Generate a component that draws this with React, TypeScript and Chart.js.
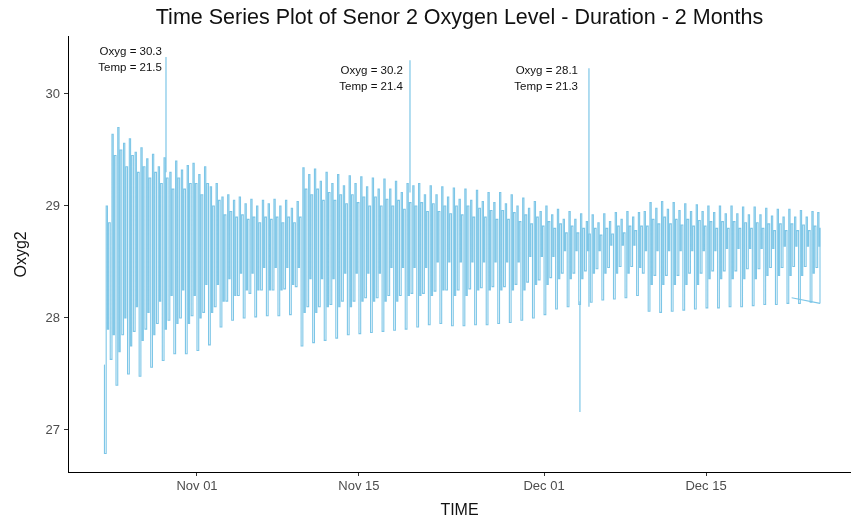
import { useEffect, useRef } from "react";
import { Chart, registerables } from "chart.js";

Chart.register(...registerables);

// Time axis: days counted from Oct 01 (= day 0)
const cycleStartDay = 23; // Oct 24
const cycleLength = 0.5; // half-day oscillation
const firstReading = 27.58;
const lastDay = 84.85;
const lastReading = 28.13;

const peaks = [
  29.0, 29.64, 29.7, 29.56, 29.6, 29.48, 29.52, 29.42, 29.46, 29.35,
  29.43, 29.3, 29.4, 29.32, 29.36, 29.38, 29.28, 29.35, 29.17, 29.2,
  29.08, 29.1, 29.05, 29.08, 29.02, 29.06, 29.0, 29.05, 29.02, 29.06,
  29.0, 29.05, 28.98, 29.04, 29.34, 29.28, 29.33, 29.22, 29.3, 29.2,
  29.28, 29.18, 29.27, 29.2, 29.26, 29.17, 29.25, 29.15, 29.24, 29.15,
  29.22, 29.12, 29.2, 29.18, 29.2, 29.1, 29.18, 29.1, 29.17, 29.08,
  29.16, 29.06, 29.15, 29.05, 29.14, 29.04, 29.12, 29.03, 29.12, 29.02,
  29.1, 29.0, 29.07, 28.98, 29.04, 28.95, 29.0, 28.92, 28.97, 28.88,
  28.95, 28.88, 28.93, 28.86, 28.92, 28.85, 28.93, 28.86, 28.94, 28.88,
  28.95, 28.9, 28.94, 28.95, 29.03, 28.98, 29.04, 28.97, 29.03, 28.96,
  29.02, 28.95, 29.01, 28.95, 29.0, 28.94, 29.0, 28.93, 29.0, 28.93,
  28.99, 28.92, 28.99, 28.92, 28.98, 28.91, 28.97, 28.9, 28.97, 28.9,
  28.96, 28.9, 28.95, 28.94,
];

const troughs = [
  26.79, 27.63, 27.4, 27.85, 27.5, 27.88, 27.48, 27.9, 27.56, 27.95,
  27.62, 27.98, 27.68, 28.0, 27.68, 28.02, 27.71, 28.05, 27.76, 28.1,
  27.92, 28.15, 27.98, 28.2, 28.0, 28.22, 28.01, 28.25, 28.02, 28.25,
  28.02, 28.26, 28.03, 28.28, 27.75, 28.1, 27.78, 28.1, 27.8, 28.12,
  27.82, 28.15, 27.85, 28.15, 27.86, 28.18, 27.87, 28.18, 27.88, 28.2,
  27.89, 28.2, 27.9, 28.22, 27.92, 28.22, 27.94, 28.24, 27.95, 28.25,
  27.93, 28.25, 27.93, 28.26, 27.94, 28.27, 27.94, 28.28, 27.95, 28.28,
  27.96, 28.3, 27.98, 28.32, 28.0, 28.34, 28.03, 28.36, 28.08, 28.4,
  28.1, 28.4, 28.12, 28.42, 28.14, 28.44, 28.16, 28.45, 28.17, 28.46,
  28.18, 28.46, 28.2, 28.4, 28.06, 28.38, 28.05, 28.38, 28.06, 28.38,
  28.07, 28.4, 28.08, 28.4, 28.09, 28.42, 28.09, 28.42, 28.1, 28.42,
  28.1, 28.44, 28.11, 28.44, 28.12, 28.45, 28.12, 28.45, 28.13, 28.46,
  28.13, 28.46, 28.14, 28.45,
];

// partial drop after each peak
const dips = [
  27.9, 27.85, 27.7, 28.0, 27.75, 28.1, 27.8, 28.05, 27.85, 28.15,
  27.9, 28.2, 27.95, 28.25, 27.95, 28.2, 28.0, 28.3, 28.05, 28.3,
  28.15, 28.35, 28.2, 28.4, 28.25, 28.4, 28.25, 28.45, 28.25, 28.45,
  28.25, 28.45, 28.3, 28.45, 28.05, 28.35, 28.05, 28.35, 28.1, 28.35,
  28.1, 28.4, 28.1, 28.4, 28.15, 28.4, 28.15, 28.4, 28.15, 28.45,
  28.15, 28.45, 28.2, 28.45, 28.2, 28.45, 28.2, 28.5, 28.25, 28.5,
  28.2, 28.5, 28.2, 28.5, 28.25, 28.5, 28.25, 28.5, 28.25, 28.5,
  28.25, 28.5, 28.25, 28.55, 28.3, 28.55, 28.3, 28.55, 28.35, 28.6,
  28.35, 28.6, 28.35, 28.6, 28.4, 28.6, 28.4, 28.65, 28.4, 28.65,
  28.4, 28.65, 28.45, 28.6, 28.3, 28.6, 28.3, 28.6, 28.3, 28.6,
  28.3, 28.6, 28.3, 28.6, 28.35, 28.6, 28.35, 28.62, 28.35, 28.62,
  28.35, 28.62, 28.35, 28.62, 28.38, 28.62, 28.38, 28.64, 28.38, 28.64,
  28.38, 28.64, 28.4, 28.64,
];

// secondary rise before the next trough
const rebounds = [
  28.85, 29.45, 29.5, 29.35, 29.45, 29.3, 29.35, 29.25, 29.3, 29.2,
  29.25, 29.15, 29.25, 29.15, 29.2, 29.2, 29.1, 29.2, 29.0, 29.05,
  28.92, 28.95, 28.9, 28.92, 28.88, 28.9, 28.85, 28.9, 28.88, 28.9,
  28.85, 28.9, 28.85, 28.9, 29.15, 29.1, 29.15, 29.05, 29.12, 29.05,
  29.1, 29.02, 29.1, 29.03, 29.08, 29.0, 29.08, 29.0, 29.06, 29.0,
  29.05, 28.97, 29.03, 29.0, 29.03, 28.95, 29.02, 28.95, 29.0, 28.93,
  29.0, 28.92, 29.0, 28.9, 28.98, 28.9, 28.96, 28.88, 28.96, 28.88,
  28.94, 28.86, 28.92, 28.84, 28.9, 28.82, 28.86, 28.8, 28.84, 28.76,
  28.82, 28.76, 28.8, 28.75, 28.8, 28.74, 28.8, 28.75, 28.82, 28.76,
  28.82, 28.78, 28.82, 28.82, 28.88, 28.84, 28.9, 28.84, 28.88, 28.83,
  28.88, 28.82, 28.87, 28.82, 28.86, 28.8, 28.86, 28.8, 28.86, 28.8,
  28.85, 28.8, 28.85, 28.8, 28.84, 28.78, 28.84, 28.78, 28.84, 28.78,
  28.83, 28.78, 28.82, 28.8,
];

// isolated spikes / dips
const spikeDays = [28.32, 49.41, 64.88];
const spikeBases = [29.3, 29.12, 28.1];
const spikeTops = [30.33, 30.3, 30.23];
const dipDays = [64.1];
const dipBases = [28.15];
const dipBottoms = [27.16];

// trailing out-of-order segment
const tailDays = [82.4, 84.85];
const tailValues = [28.18, 28.13];

// annotations
const noteDays = [27.97, 48.8, 63.93];
const noteLevels = [30.38, 30.21, 30.21];
const noteOxyg = [30.3, 30.2, 28.1];
const noteTemp = [21.5, 21.4, 21.3];

const xTickDays = [31, 45, 61, 75];
const xTickLabels = ["Nov 01", "Nov 15", "Dec 01", "Dec 15"];
const yTicks = [27, 28, 29, 30];

const LINE = "#7DC6E7";
const FONT = "'Liberation Sans', Arial, Helvetica, sans-serif";

export default function App() {
  const ref = useRef<HTMLCanvasElement | null>(null);

  useEffect(() => {
    if (!ref.current) return;

    const main: { x: number; y: number }[] = [{ x: cycleStartDay - 0.02, y: firstReading }];
    peaks.forEach((p, i) => {
      const t = cycleStartDay + i * cycleLength;
      main.push({ x: t, y: troughs[i] });
      main.push({ x: t + cycleLength * 0.3, y: p });
      main.push({ x: t + cycleLength * 0.52, y: dips[i] });
      main.push({ x: t + cycleLength * 0.72, y: rebounds[i] });
    });
    main.push({ x: lastDay, y: lastReading });

    const spikes: { x: number; y: number | null }[] = [];
    spikeDays.forEach((d, i) => {
      spikes.push({ x: d, y: spikeBases[i] }, { x: d, y: spikeTops[i] }, { x: d, y: null });
    });
    dipDays.forEach((d, i) => {
      spikes.push({ x: d, y: dipBases[i] }, { x: d, y: dipBottoms[i] }, { x: d, y: null });
    });

    const tail = tailDays.map((d, i) => ({ x: d, y: tailValues[i] }));

    const notesPlugin = {
      id: "notes",
      afterDatasetsDraw(chart: any) {
        const { ctx, scales } = chart;
        ctx.save();
        ctx.font = `11.5px ${FONT}`;
        ctx.fillStyle = "#111";
        ctx.textAlign = "right";
        ctx.textBaseline = "middle";
        noteDays.forEach((d, i) => {
          const x = scales.x.getPixelForValue(d);
          const y = scales.y.getPixelForValue(noteLevels[i]);
          ctx.fillText(`Oxyg = ${noteOxyg[i]}`, x, y);
          ctx.fillText(`Temp = ${noteTemp[i]}`, x, y + 16);
        });
        ctx.restore();
      },
    };

    const chart = new Chart(ref.current, {
      type: "line",
      data: {
        datasets: [
          { data: main, borderColor: LINE, borderWidth: 1.1, pointRadius: 0, stepped: true, tension: 0 },
          { data: spikes, borderColor: LINE, borderWidth: 1.2, pointRadius: 0, spanGaps: false },
          { data: tail, borderColor: LINE, borderWidth: 1.1, pointRadius: 0 },
        ],
      },
      options: {
        animation: false,
        responsive: false,
        devicePixelRatio: 1,
        layout: { padding: 0 },
        plugins: {
          legend: { display: false },
          tooltip: { enabled: false },
          title: {
            display: true,
            text: "Time Series Plot of Senor 2 Oxygen Level - Duration - 2 Months",
            fullSize: false,
            color: "#111",
            font: { family: FONT, size: 21.5, weight: "normal", lineHeight: 1.2 },
            padding: { top: 5, bottom: 6 },
          },
        },
        scales: {
          x: {
            type: "linear",
            min: 19.85,
            max: 87.53,
            afterFit: (s: any) => {
              s.height = 53;
            },
            afterBuildTicks: (s: any) => {
              s.ticks = xTickDays.map((v) => ({ value: v }));
            },
            ticks: {
              autoSkip: false,
              maxRotation: 0,
              padding: 3,
              color: "#4D4D4D",
              font: { family: FONT, size: 13 },
              callback: (v: any) => {
                const k = xTickDays.indexOf(Number(v));
                return k >= 0 ? xTickLabels[k] : "";
              },
            },
            grid: { drawOnChartArea: false, drawTicks: true, tickLength: 4, color: "#333" },
            border: { display: true, color: "#000", width: 1 },
            title: {
              display: true,
              text: "TIME",
              color: "#111",
              font: { family: FONT, size: 16 },
              padding: { top: 0, bottom: 5 },
            },
          },
          y: {
            type: "linear",
            min: 26.625,
            max: 30.51,
            afterFit: (s: any) => {
              s.width = 68;
            },
            afterBuildTicks: (s: any) => {
              s.ticks = yTicks.map((v) => ({ value: v }));
            },
            ticks: {
              padding: 4,
              color: "#4D4D4D",
              font: { family: FONT, size: 13 },
            },
            grid: { drawOnChartArea: false, drawTicks: true, tickLength: 4, color: "#333" },
            border: { display: true, color: "#000", width: 1 },
            title: {
              display: true,
              text: "Oxyg2",
              color: "#111",
              font: { family: FONT, size: 16 },
              padding: { top: 12, bottom: 0 },
            },
          },
        },
      },
      plugins: [notesPlugin],
    });

    return () => chart.destroy();
  }, []);

  return (
    <div style={{ position: "absolute", left: 0, top: 0, width: 851, height: 525 }}>
      <canvas ref={ref} width={851} height={525} />
    </div>
  );
}
